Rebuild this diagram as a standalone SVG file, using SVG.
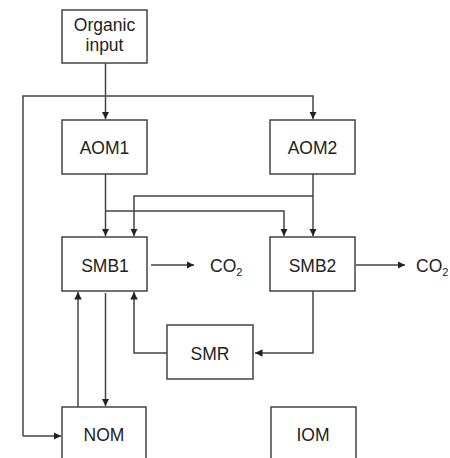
<svg xmlns="http://www.w3.org/2000/svg" width="450" height="458" viewBox="0 0 450 458">
<style>
.box{fill:#fff;stroke:#444;stroke-width:1.5}
.t{font-family:"Liberation Sans",Arial,sans-serif;font-size:17.5px;fill:#222;text-anchor:middle}
.c{fill:none;stroke:#444;stroke-width:1.5}
</style>
<defs>
<marker id="ah" viewBox="0 0 10 10" refX="10" refY="5" markerWidth="5" markerHeight="5" markerUnits="strokeWidth" orient="auto">
<path d="M0,0L10,5L0,10z" fill="#222"/>
</marker>
</defs>
<rect width="450" height="458" fill="#fff"/>
<g id="connectors">
<path class="c" d="M105.5,63V119" marker-end="url(#ah)"/>
<path class="c" d="M23,436V96H313V119" marker-end="url(#ah)"/>
<path class="c" d="M23,436H61" marker-end="url(#ah)"/>
<path class="c" d="M105.5,174V236" marker-end="url(#ah)"/>
<path class="c" d="M105.5,211H284V236" marker-end="url(#ah)"/>
<path class="c" d="M313,174V236" marker-end="url(#ah)"/>
<path class="c" d="M313,196H134V236" marker-end="url(#ah)"/>
<path class="c" d="M151,265H194" marker-end="url(#ah)"/>
<path class="c" d="M356,265H405" marker-end="url(#ah)"/>
<path class="c" d="M313,291V353H255" marker-end="url(#ah)"/>
<path class="c" d="M167,353H134V292" marker-end="url(#ah)"/>
<path class="c" d="M78,407V292" marker-end="url(#ah)"/>
<path class="c" d="M105.5,293V406" marker-end="url(#ah)"/>
</g>
<g id="organic-input"><rect class="box" x="62" y="10" width="85" height="53"/><text class="t" x="104.5" y="31">Organic</text><text class="t" x="104.5" y="51">input</text></g>
<g id="AOM1"><rect class="box" x="62" y="120" width="85" height="54"/><text class="t" x="104.5" y="154">AOM1</text></g>
<g id="AOM2"><rect class="box" x="270" y="120" width="85" height="54"/><text class="t" x="312.5" y="154">AOM2</text></g>
<g id="SMB1"><rect class="box" x="62" y="237" width="85" height="54"/><text class="t" x="105" y="272">SMB1</text></g>
<g id="SMB2"><rect class="box" x="270" y="237" width="85" height="54"/><text class="t" x="312.5" y="272">SMB2</text></g>
<g id="CO2-1"><text class="t" x="210" y="272" style="text-anchor:start">CO<tspan font-size="11" dy="4">2</tspan></text></g>
<g id="CO2-2"><text class="t" x="416" y="272" style="text-anchor:start">CO<tspan font-size="11" dy="4">2</tspan></text></g>
<g id="SMR"><rect class="box" x="167" y="325" width="86" height="54"/><text class="t" x="210" y="360">SMR</text></g>
<g id="NOM"><rect class="box" x="62" y="407" width="84" height="60"/><text class="t" x="104" y="441">NOM</text></g>
<g id="IOM"><rect class="box" x="271" y="407" width="85" height="60"/><text class="t" x="313" y="441">IOM</text></g>
</svg>
